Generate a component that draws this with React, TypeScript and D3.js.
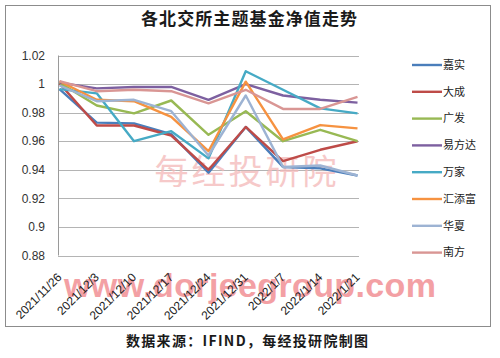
import React from "react";
import * as d3 from "d3";

const dates = ["2021/11/26", "2021/12/3", "2021/12/10", "2021/12/17", "2021/12/24", "2021/12/31", "2022/1/7", "2022/1/14", "2022/1/21"];
const yTicks = [0.88, 0.9, 0.92, 0.94, 0.96, 0.98, 1, 1.02];

const jiashi = [0.9965, 0.973, 0.9725, 0.965, 0.938, 0.970, 0.942, 0.941, 0.936];
const dacheng = [1.0005, 0.971, 0.971, 0.964, 0.940, 0.970, 0.946, 0.954, 0.960];
const guangfa = [1.001, 0.985, 0.9795, 0.9885, 0.9645, 0.981, 0.960, 0.968, 0.960];
const yifangda = [1.001, 0.997, 0.998, 0.998, 0.989, 1.000, 0.992, 0.989, 0.987];
const wanjia = [0.9965, 0.9935, 0.960, 0.967, 0.948, 1.009, 0.996, 0.983, 0.9795];
const huitianfu = [1.002, 0.989, 0.988, 0.977, 0.953, 1.0017, 0.9613, 0.9713, 0.969];
const huaxia = [0.999, 0.988, 0.989, 0.981, 0.950, 0.992, 0.942, 0.943, 0.936];
const nanfang = [1.002, 0.995, 0.996, 0.995, 0.9865, 0.996, 0.9826, 0.9826, 0.991];

const seriesNames = ["嘉实", "大成", "广发", "易方达", "万家", "汇添富", "华夏", "南方"];
const seriesValues = [jiashi, dacheng, guangfa, yifangda, wanjia, huitianfu, huaxia, nanfang];
const seriesColors = ["#4A7EBB", "#BE4B48", "#98B954", "#7D60A0", "#46AAC5", "#F69240", "#9DB3D3", "#D99694"];

export default function App() {
  const W = 500, H = 358;
  const x = d3.scalePoint<string>().domain(dates).range([59.5, 357.5]);
  const y = d3.scaleLinear().domain([0.88, 1.02]).range([255.5, 55.5]);
  const line = d3.line<number>().x((_, i) => x(dates[i]) as number).y((v) => y(v));
  const sans = "'Liberation Sans', Arial, sans-serif";
  const cjk = "'Noto Sans CJK SC', sans-serif";

  return (
    <svg width={W} height={H} style={{ position: "absolute", left: 0, top: 0, background: "#fff" }}>
      <rect x={0} y={0} width={W} height={H} fill="#fff" />
      <rect x={5.5} y={5.5} width={485} height={321} fill="#fff" stroke="#8c8c8c" strokeWidth={1} />
      <text x={249} y={25} textAnchor="middle" fontFamily={cjk} fontWeight={700} fontSize={17} fill="#1a1a1a" textLength={216}>
        各北交所主题基金净值走势
      </text>

      {yTicks.map((t) => (
        <line key={t} x1={58} x2={359} y1={Math.round(y(t)) + 0.5} y2={Math.round(y(t)) + 0.5} stroke="#b4b4b4" strokeWidth={1} />
      ))}
      <line x1={58.5} x2={58.5} y1={y(1.02)} y2={y(0.88)} stroke="#9a9a9a" strokeWidth={1} />
      {yTicks.map((t) => (
        <text key={"l" + t} x={45} y={y(t)} dy="0.35em" textAnchor="end" fontFamily={sans} fontSize={12} fill="#333">
          {d3.format("")(+t.toFixed(2))}
        </text>
      ))}

      <text x={247} y={184} textAnchor="middle" fontFamily={cjk} fontSize={34} fill="#F4B8B8" opacity={0.75} letterSpacing={3}>
        每经投研院
      </text>

      {seriesValues.map((vals, i) => (
        <path key={seriesNames[i]} d={line(vals) || ""} fill="none" stroke={seriesColors[i]} strokeWidth={2.4} strokeLinejoin="round" />
      ))}

      <text x={64} y={297} fontFamily={sans} fontWeight={700} fontSize={34} fill="#F29095" opacity={0.85} textLength={372}>
        www.dorjeegroup.com
      </text>

      {dates.map((d) => (
        <text key={d} transform={`translate(${(x(d) as number) + 3},${278}) rotate(-45)`} textAnchor="end" fontFamily={sans} fontSize={12} fill="#222">
          {d}
        </text>
      ))}

      {seriesNames.map((n, i) => {
        const ly = 65 + i * 26.8;
        return (
          <g key={"lg" + n}>
            <line x1={412} x2={442} y1={ly} y2={ly} stroke={seriesColors[i]} strokeWidth={2.4} />
            <text x={443} y={ly} dy="0.35em" fontFamily={cjk} fontSize={11} fill="#222">
              {n}
            </text>
          </g>
        );
      })}

      <text x={247} y={346} textAnchor="middle" fontFamily={cjk} fontWeight={700} fontSize={14} fill="#1a1a1a" textLength={242}>
        数据来源：IFIND，每经投研院制图
      </text>
    </svg>
  );
}
